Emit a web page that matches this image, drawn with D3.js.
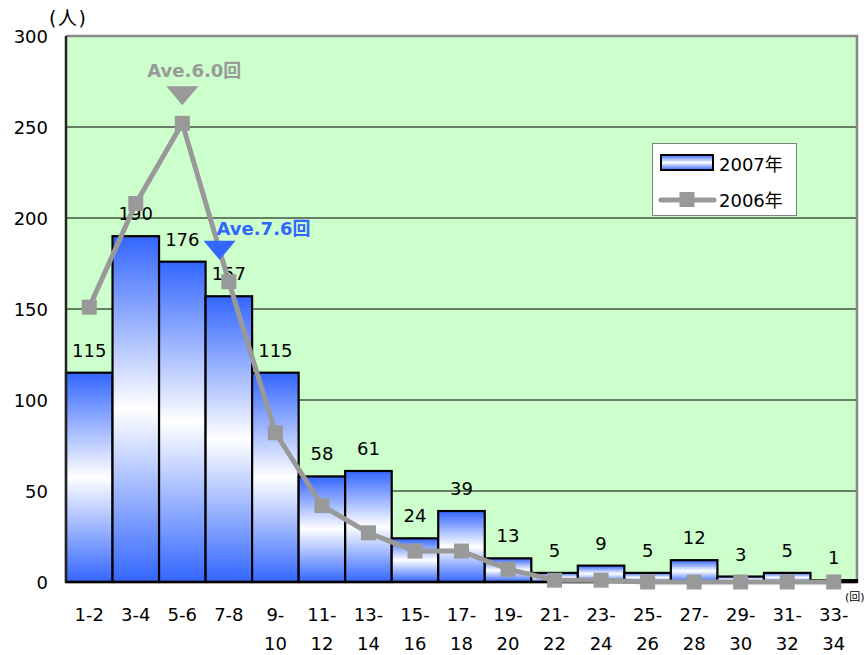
<!DOCTYPE html>
<html>
<head>
<meta charset="utf-8">
<script src="https://cdn.jsdelivr.net/npm/d3@7"></script>
<style>
  html, body { margin: 0; padding: 0; background: #ffffff; }
  svg { display: block; font-family: "DejaVu Sans", "Noto Sans CJK JP", sans-serif; }
</style>
</head>
<body>
<svg id="chart" width="866" height="655"></svg>
<script>
// Number of repeat visits (grouped in pairs) and head-count per group
const categories = ["1-2","3-4","5-6","7-8","9-10","11-12","13-14","15-16","17-18",
                    "19-20","21-22","23-24","25-26","27-28","29-30","31-32","33-34"];
const values2007 = [115,190,176,157,115,58,61,24,39,13,5,9,5,12,3,5,1];
const values2006 = [151,208,252,165,82,42,27,17,17,7,1,1,0,0,0,0,0];
const seriesNames = ["2007年","2006年"];
const yTicks = [0,50,100,150,200,250,300];
const averages = [
  { label: "Ave.6.0回", value: 6.0, series: "2006年" },
  { label: "Ave.7.6回", value: 7.6, series: "2007年" }
];
const yUnit = "(人)";
const xUnit = "(回)";

const FONT = "DejaVu Sans, Noto Sans CJK JP, sans-serif";
const svg = d3.select("#chart");
const margin = { left: 66, right: 9, top: 36, bottom: 73 };
const W = 866, H = 655;
const plotL = margin.left, plotR = W - margin.right, plotT = margin.top, plotB = H - margin.bottom;

const x = d3.scaleBand().domain(categories).range([plotL, plotR]).padding(0);
const y = d3.scaleLinear().domain([0, 300]).range([plotB, plotT]);
// continuous visit-count scale spanning the same bands (1 .. 35)
const xv = d3.scaleLinear().domain([1, 35]).range([plotL, plotR]);

const BLUE = "#3366ff", GRAY = "#999999";

// vertical gradient: blue at top and bottom, white in the middle
const defs = svg.append("defs");
const grad = defs.append("linearGradient").attr("id", "barFill")
  .attr("x1", 0).attr("y1", 0).attr("x2", 0).attr("y2", 1);
grad.append("stop").attr("offset", "0%").attr("stop-color", BLUE);
grad.append("stop").attr("offset", "50%").attr("stop-color", "#ffffff");
grad.append("stop").attr("offset", "100%").attr("stop-color", BLUE);

// plot background
svg.append("rect").attr("x", plotL).attr("y", plotT)
  .attr("width", plotR - plotL).attr("height", plotB - plotT)
  .attr("fill", "#ccffcc");

// horizontal grid
svg.append("g").selectAll("line")
  .data(yTicks.filter(t => t > 0 && t < 300))
  .join("line")
  .attr("x1", plotL).attr("x2", plotR)
  .attr("y1", d => y(d)).attr("y2", d => y(d))
  .attr("stroke", "#000").attr("stroke-width", 1);

// frame (top / right in gray)
svg.append("path")
  .attr("d", `M${plotL},${plotT}H${plotR}V${plotB}`)
  .attr("fill", "none").attr("stroke", "#888888").attr("stroke-width", 2.5);

// 2007 bars
svg.append("g").selectAll("rect")
  .data(categories.map((c, i) => ({ c, v: values2007[i] })))
  .join("rect")
  .attr("x", d => x(d.c)).attr("width", x.bandwidth())
  .attr("y", d => y(d.v)).attr("height", d => y(0) - y(d.v))
  .attr("fill", "url(#barFill)")
  .attr("stroke", "#000").attr("stroke-width", 2.2);

// 2007 value labels
svg.append("g").selectAll("text")
  .data(categories.map((c, i) => ({ c, v: values2007[i] })))
  .join("text")
  .attr("x", d => x(d.c) + x.bandwidth() / 2)
  .attr("y", d => y(d.v) - 16)
  .attr("text-anchor", "middle")
  .attr("font-size", 18).attr("fill", "#000")
  .text(d => d.v);

// axes lines
svg.append("line").attr("x1", plotL).attr("x2", plotL).attr("y1", plotT).attr("y2", plotB)
  .attr("stroke", "#222").attr("stroke-width", 2.5);
svg.append("line").attr("x1", plotL).attr("x2", plotR).attr("y1", plotB).attr("y2", plotB)
  .attr("stroke", "#000").attr("stroke-width", 2.5);

// 2006 line + square markers
const pts = categories.map((c, i) => ({ c, v: values2006[i] }));
const line = d3.line().x(d => x(d.c) + x.bandwidth() / 2).y(d => y(d.v));
svg.append("path").datum(pts).attr("d", line)
  .attr("fill", "none").attr("stroke", GRAY).attr("stroke-width", 5)
  .attr("stroke-linejoin", "round");
const MS = 15;
svg.append("g").selectAll("rect")
  .data(pts).join("rect")
  .attr("x", d => x(d.c) + x.bandwidth() / 2 - MS / 2)
  .attr("y", d => y(d.v) - MS / 2)
  .attr("width", MS).attr("height", MS)
  .attr("fill", GRAY);

// y axis labels
const yAxis = d3.axisLeft(y).tickValues(yTicks).tickSize(0).tickPadding(18);
const yg = svg.append("g").attr("transform", `translate(${plotL},0)`).call(yAxis);
yg.select(".domain").remove();
yg.selectAll("text").attr("font-size", 18).attr("fill", "#000")
  .attr("font-family", FONT).attr("dy", "0.36em");

// x axis labels (two lines where the range has two-digit numbers)
const xAxis = d3.axisBottom(x).tickSize(0).tickFormat("");
const xg = svg.append("g").attr("transform", `translate(0,${plotB})`).call(xAxis);
xg.select(".domain").remove();
xg.selectAll(".tick").each(function(c) {
  const parts = c.split("-");
  const twoLine = parts[1].length > 1;
  const t = d3.select(this).append("text")
    .attr("text-anchor", "middle").attr("font-size", 18).attr("fill", "#000")
    .attr("font-family", FONT);
  if (twoLine) {
    t.append("tspan").attr("x", 0).attr("y", 39).text(parts[0] + "-");
    t.append("tspan").attr("x", 0).attr("y", 68).text(parts[1]);
  } else {
    t.append("tspan").attr("x", 0).attr("y", 39).text(c);
  }
});

// unit labels
svg.append("text").attr("x", 49).attr("y", 25).attr("font-size", 19)
  .attr("letter-spacing", 1.5).attr("fill", "#000").text(yUnit);
svg.append("text").attr("x", 845).attr("y", 601).attr("font-size", 11).attr("fill", "#000").text(xUnit);

// average annotations
const annotate = (a, tipValue, color, textDx, textBaseline) => {
  const cx = xv(a.value), ty = y(tipValue);
  svg.append("path")
    .attr("d", `M${cx - 16},${ty - 19}L${cx + 16},${ty - 19}L${cx},${ty}Z`)
    .attr("fill", color);
  svg.append("text").attr("x", cx + textDx).attr("y", textBaseline)
    .attr("font-size", 18).attr("font-weight", "bold").attr("fill", color)
    .text(a.label);
};
annotate(averages[0], 262, GRAY, -35, 77);
annotate(averages[1], 177, BLUE, -3, 235);

// legend
const lg = svg.append("g");
lg.append("rect").attr("x", 652.5).attr("y", 143.5).attr("width", 144).attr("height", 72)
  .attr("fill", "#ffffff").attr("stroke", "#808080").attr("stroke-width", 1);
lg.append("rect").attr("x", 661).attr("y", 155).attr("width", 52).attr("height", 15)
  .attr("fill", "url(#barFill)").attr("stroke", "#000").attr("stroke-width", 2);
lg.append("text").attr("x", 719).attr("y", 171).attr("font-size", 18).attr("fill", "#000").text(seriesNames[0]);
lg.append("line").attr("x1", 661).attr("x2", 714).attr("y1", 200).attr("y2", 200)
  .attr("stroke", GRAY).attr("stroke-width", 5).attr("stroke-linecap", "round");
lg.append("rect").attr("x", 679.5).attr("y", 192).attr("width", MS).attr("height", MS).attr("fill", GRAY);
lg.append("text").attr("x", 719).attr("y", 207).attr("font-size", 18).attr("fill", "#000").text(seriesNames[1]);
</script>
</body>
</html>
